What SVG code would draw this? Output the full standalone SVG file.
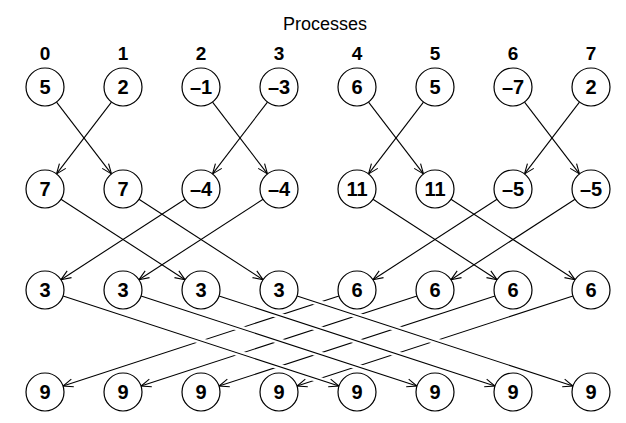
<svg xmlns="http://www.w3.org/2000/svg" width="626" height="423" viewBox="0 0 626 423">
<style>
text{font-family:"Liberation Sans",Arial,Helvetica,sans-serif;fill:#000}
.t{font-size:18px}
.lab{font-size:19px;font-weight:bold;text-anchor:middle}
.v{font-size:20px;font-weight:bold;text-anchor:middle}
.n circle{fill:#fff;stroke:#000;stroke-width:1.2}
.e{stroke:#000;stroke-width:1.1;fill:none;marker-end:url(#arr)}
.h{stroke:#fff;stroke-width:6;fill:none}
</style>
<defs>
<marker id="arr" markerUnits="userSpaceOnUse" markerWidth="12" markerHeight="10" refX="10" refY="4" orient="auto" overflow="visible">
<polyline points="0,0 10,4 0,8" fill="none" stroke="#000" stroke-width="1.1"/>
</marker>
</defs>
<rect width="626" height="423" fill="#fff"/>
<text class="t" x="325" y="30" text-anchor="middle">Processes</text>
<g id="labels">
<text class="lab" x="45" y="60">0</text>
<text class="lab" x="123" y="60">1</text>
<text class="lab" x="201" y="60">2</text>
<text class="lab" x="279" y="60">3</text>
<text class="lab" x="357" y="60">4</text>
<text class="lab" x="435" y="60">5</text>
<text class="lab" x="513" y="60">6</text>
<text class="lab" x="591" y="60">7</text>
</g>
<g id="connectors">
<line class="e" x1="56.54" y1="102.09" x2="111.46" y2="173.91"/>
<line class="e" x1="111.46" y1="102.09" x2="56.54" y2="173.91"/>
<line class="e" x1="212.54" y1="102.09" x2="267.46" y2="173.91"/>
<line class="e" x1="267.46" y1="102.09" x2="212.54" y2="173.91"/>
<line class="e" x1="368.54" y1="102.09" x2="423.46" y2="173.91"/>
<line class="e" x1="423.46" y1="102.09" x2="368.54" y2="173.91"/>
<line class="e" x1="524.54" y1="102.09" x2="579.46" y2="173.91"/>
<line class="e" x1="579.46" y1="102.09" x2="524.54" y2="173.91"/>
<line class="e" x1="60.95" y1="199.33" x2="185.05" y2="279.67"/>
<line class="e" x1="138.95" y1="199.33" x2="263.05" y2="279.67"/>
<line class="e" x1="185.05" y1="199.33" x2="60.95" y2="279.67"/>
<line class="e" x1="263.05" y1="199.33" x2="138.95" y2="279.67"/>
<line class="e" x1="372.95" y1="199.33" x2="497.05" y2="279.67"/>
<line class="e" x1="450.95" y1="199.33" x2="575.05" y2="279.67"/>
<line class="e" x1="497.05" y1="199.33" x2="372.95" y2="279.67"/>
<line class="e" x1="575.05" y1="199.33" x2="450.95" y2="279.67"/>
<line class="e" x1="338.94" y1="295.9" x2="63.06" y2="386.1"/>
<line class="e" x1="416.94" y1="295.9" x2="141.06" y2="386.1"/>
<line class="e" x1="494.94" y1="295.9" x2="219.06" y2="386.1"/>
<line class="e" x1="572.94" y1="295.9" x2="297.06" y2="386.1"/>
<line class="h" x1="63.06" y1="295.9" x2="338.94" y2="386.1"/>
<line class="e" x1="63.06" y1="295.9" x2="338.94" y2="386.1"/>
<line class="h" x1="141.06" y1="295.9" x2="416.94" y2="386.1"/>
<line class="e" x1="141.06" y1="295.9" x2="416.94" y2="386.1"/>
<line class="h" x1="219.06" y1="295.9" x2="494.94" y2="386.1"/>
<line class="e" x1="219.06" y1="295.9" x2="494.94" y2="386.1"/>
<line class="h" x1="297.06" y1="295.9" x2="572.94" y2="386.1"/>
<line class="e" x1="297.06" y1="295.9" x2="572.94" y2="386.1"/>
</g>
<g id="r0c0" class="n"><circle cx="45" cy="87" r="19"/><text class="v" x="45" y="94">5</text></g>
<g id="r0c1" class="n"><circle cx="123" cy="87" r="19"/><text class="v" x="123" y="94">2</text></g>
<g id="r0c2" class="n"><circle cx="201" cy="87" r="19"/><text class="v" x="201" y="94">–1</text></g>
<g id="r0c3" class="n"><circle cx="279" cy="87" r="19"/><text class="v" x="279" y="94">–3</text></g>
<g id="r0c4" class="n"><circle cx="357" cy="87" r="19"/><text class="v" x="357" y="94">6</text></g>
<g id="r0c5" class="n"><circle cx="435" cy="87" r="19"/><text class="v" x="435" y="94">5</text></g>
<g id="r0c6" class="n"><circle cx="513" cy="87" r="19"/><text class="v" x="513" y="94">–7</text></g>
<g id="r0c7" class="n"><circle cx="591" cy="87" r="19"/><text class="v" x="591" y="94">2</text></g>
<g id="r1c0" class="n"><circle cx="45" cy="189" r="19"/><text class="v" x="45" y="196">7</text></g>
<g id="r1c1" class="n"><circle cx="123" cy="189" r="19"/><text class="v" x="123" y="196">7</text></g>
<g id="r1c2" class="n"><circle cx="201" cy="189" r="19"/><text class="v" x="201" y="196">–4</text></g>
<g id="r1c3" class="n"><circle cx="279" cy="189" r="19"/><text class="v" x="279" y="196">–4</text></g>
<g id="r1c4" class="n"><circle cx="357" cy="189" r="19"/><text class="v" x="357" y="196">11</text></g>
<g id="r1c5" class="n"><circle cx="435" cy="189" r="19"/><text class="v" x="435" y="196">11</text></g>
<g id="r1c6" class="n"><circle cx="513" cy="189" r="19"/><text class="v" x="513" y="196">–5</text></g>
<g id="r1c7" class="n"><circle cx="591" cy="189" r="19"/><text class="v" x="591" y="196">–5</text></g>
<g id="r2c0" class="n"><circle cx="45" cy="290" r="19"/><text class="v" x="45" y="297">3</text></g>
<g id="r2c1" class="n"><circle cx="123" cy="290" r="19"/><text class="v" x="123" y="297">3</text></g>
<g id="r2c2" class="n"><circle cx="201" cy="290" r="19"/><text class="v" x="201" y="297">3</text></g>
<g id="r2c3" class="n"><circle cx="279" cy="290" r="19"/><text class="v" x="279" y="297">3</text></g>
<g id="r2c4" class="n"><circle cx="357" cy="290" r="19"/><text class="v" x="357" y="297">6</text></g>
<g id="r2c5" class="n"><circle cx="435" cy="290" r="19"/><text class="v" x="435" y="297">6</text></g>
<g id="r2c6" class="n"><circle cx="513" cy="290" r="19"/><text class="v" x="513" y="297">6</text></g>
<g id="r2c7" class="n"><circle cx="591" cy="290" r="19"/><text class="v" x="591" y="297">6</text></g>
<g id="r3c0" class="n"><circle cx="45" cy="392" r="19"/><text class="v" x="45" y="399">9</text></g>
<g id="r3c1" class="n"><circle cx="123" cy="392" r="19"/><text class="v" x="123" y="399">9</text></g>
<g id="r3c2" class="n"><circle cx="201" cy="392" r="19"/><text class="v" x="201" y="399">9</text></g>
<g id="r3c3" class="n"><circle cx="279" cy="392" r="19"/><text class="v" x="279" y="399">9</text></g>
<g id="r3c4" class="n"><circle cx="357" cy="392" r="19"/><text class="v" x="357" y="399">9</text></g>
<g id="r3c5" class="n"><circle cx="435" cy="392" r="19"/><text class="v" x="435" y="399">9</text></g>
<g id="r3c6" class="n"><circle cx="513" cy="392" r="19"/><text class="v" x="513" y="399">9</text></g>
<g id="r3c7" class="n"><circle cx="591" cy="392" r="19"/><text class="v" x="591" y="399">9</text></g>
</svg>
